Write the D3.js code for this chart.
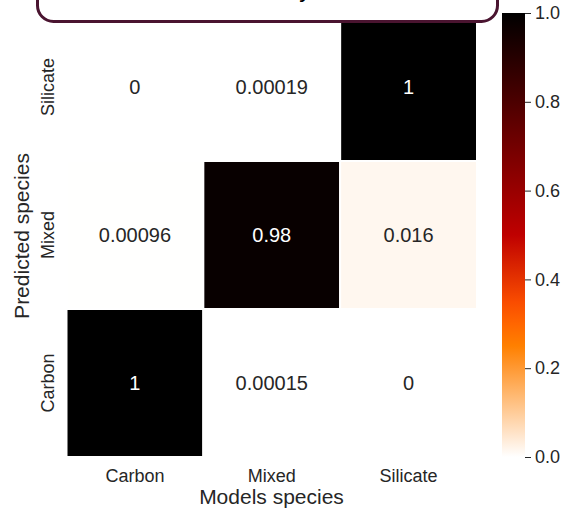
<!DOCTYPE html>
<html>
<head>
    <script src="https://d3js.org/d3.v7.min.js"></script>
    <style>
        body { margin: 0; background: #fff; }
        svg text { font-family: "Liberation Sans", Arial, sans-serif; fill: #262626; }
    </style>
    <title>Confusion heatmap</title>
</head>
<body>
    <svg width="572" height="511"></svg>
    <script>
        // data
        var modelSpecies = ["Carbon", "Mixed", "Silicate"];       // x axis
        var predictedSpecies = ["Silicate", "Mixed", "Carbon"];   // y axis, top to bottom
        var rowSilicate = [0, 0.00019, 1];
        var rowMixed = [0.00096, 0.98, 0.016];
        var rowCarbon = [1, 0.00015, 0];
        var colorTicks = [0.0, 0.2, 0.4, 0.6, 0.8, 1.0];
        var titleText = "Accuracy";

        var rows = [rowSilicate, rowMixed, rowCarbon];
        var cells = [];
        rows.forEach(function (r, i) {
            r.forEach(function (v, j) {
                cells.push({ pred: predictedSpecies[i], model: modelSpecies[j], value: v });
            });
        });

        var svg = d3.select("svg");

        // gist_heat reversed
        function heat(v) {
            var t = 1 - v;
            var r = Math.max(0, Math.min(1, 1.5 * t));
            var g = Math.max(0, Math.min(1, 2 * t - 1));
            var b = Math.max(0, Math.min(1, 4 * t - 3));
            return d3.rgb(r * 255, g * 255, b * 255).toString();
        }

        var x = d3.scaleBand().domain(modelSpecies).range([66.5, 477]);
        var y = d3.scaleBand().domain(predictedSpecies).range([13, 457]);

        svg.append("g").selectAll("rect")
            .data(cells)
            .enter()
            .append("rect")
            .attr("x", function (d) { return x(d.model); })
            .attr("y", function (d) { return y(d.pred); })
            .attr("width", x.bandwidth())
            .attr("height", y.bandwidth())
            .attr("fill", function (d) { return heat(d.value); })
            .attr("stroke", "#fff")
            .attr("stroke-width", 2);

        svg.append("g").selectAll("text")
            .data(cells)
            .enter()
            .append("text")
            .attr("x", function (d) { return x(d.model) + x.bandwidth() / 2; })
            .attr("y", function (d) { return y(d.pred) + y.bandwidth() / 2; })
            .attr("dy", "0.35em")
            .attr("text-anchor", "middle")
            .attr("font-size", "20px")
            .style("fill", function (d) { return d.value > 0.5 ? "#fff" : "#262626"; })
            .text(function (d) { return d.value; });

        // axes, no lines
        var xAxis = svg.append("g")
            .attr("transform", "translate(0,457)")
            .call(d3.axisBottom(x).tickSize(0).tickPadding(12));
        xAxis.select(".domain").remove();
        xAxis.selectAll("text").attr("font-size", "18px").attr("font-family", null);

        var yAxis = svg.append("g")
            .attr("transform", "translate(66.5,0)")
            .call(d3.axisLeft(y).tickSize(0).tickPadding(0));
        yAxis.select(".domain").remove();
        yAxis.selectAll("text")
            .attr("font-size", "18px")
            .attr("font-family", null)
            .attr("text-anchor", "middle")
            .attr("dy", null)
            .attr("x", null)
            .attr("transform", "translate(-13,0) rotate(-90)");

        svg.append("text")
            .attr("x", 271.5).attr("y", 504)
            .attr("text-anchor", "middle")
            .attr("font-size", "21px")
            .text("Models species");

        svg.append("text")
            .attr("transform", "translate(29,236) rotate(-90)")
            .attr("text-anchor", "middle")
            .attr("font-size", "21px")
            .text("Predicted species");

        // colorbar
        var cb = d3.scaleLinear().domain([0, 1]).range([457, 13]);
        var defs = svg.append("defs");
        var grad = defs.append("linearGradient")
            .attr("id", "cbgrad")
            .attr("x1", 0).attr("y1", 1).attr("x2", 0).attr("y2", 0);
        d3.range(0, 1.0001, 0.05).forEach(function (s) {
            grad.append("stop").attr("offset", s).attr("stop-color", heat(s));
        });
        svg.append("rect")
            .attr("x", 502).attr("y", cb(1))
            .attr("width", 23).attr("height", cb(0) - cb(1))
            .attr("fill", "url(#cbgrad)");
        var cAxis = svg.append("g")
            .attr("transform", "translate(525,0)")
            .call(d3.axisRight(cb).tickValues(colorTicks).tickFormat(d3.format(".1f")).tickSize(6).tickPadding(4));
        cAxis.select(".domain").remove();
        cAxis.selectAll("line").attr("stroke", "#262626");
        cAxis.selectAll("text").attr("font-size", "18px").attr("font-family", null);

        // title box, mostly off the top of the picture
        svg.append("rect")
            .attr("x", 37.5).attr("y", -40)
            .attr("width", 460).attr("height", 61.5)
            .attr("rx", 16).attr("ry", 16)
            .attr("fill", "#fff")
            .attr("stroke", "#4a1430")
            .attr("stroke-width", 3);
        svg.append("text")
            .attr("x", 262).attr("y", -3)
            .attr("text-anchor", "middle")
            .attr("font-size", "24px")
            .style("fill", "#000")
            .text(titleText);
    </script>
</body>
</html>
